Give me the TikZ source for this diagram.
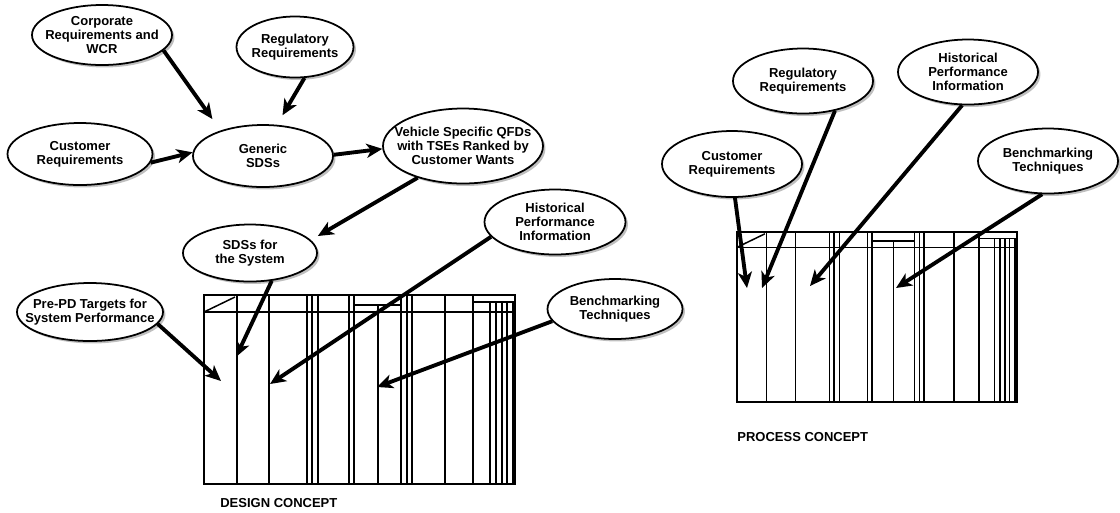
\documentclass[tikz,border=0pt]{standalone}
\usepackage{fontspec}
\setmainfont{Liberation Sans}
\usetikzlibrary{arrows.meta,shapes.geometric,shadows}
\newlength\pxu
\setlength\pxu{0.02cm}

\tikzset{
  bubble/.style 2 args={ellipse, draw, line width=1pt, fill=white,
    inner sep=0pt, minimum width=#1\pxu, minimum height=#2\pxu,
    drop shadow={shadow xshift=1.4pt, shadow yshift=-1.4pt, fill=black!50}},
  caption/.style={font=\fontsize{7.4}{8.1}\selectfont\bfseries,
    align=center, inner sep=0pt},
  flow/.style={line width=2.2pt, -{Stealth[length=9pt,width=8pt,inset=2.5pt]}},
  gridrule/.style={line width=0.85pt},
  gridframe/.style={line width=1.4pt},
  % concept matrix: 311 x 189 units, origin at its top-left corner
  conceptgrid/.pic={
    \draw[gridrule] (0,17) -- (311,17);
    \draw[gridrule] (0,17) -- (31,2);
    \foreach \gx in {33,65,103,108,114,145,150,197,203,208,241,269}
      \draw[gridrule] (\gx,0) -- (\gx,189);
    \draw[gridrule] (150,10) -- (197,10);
    \draw[gridrule] (174,10) -- (174,189);
    \draw[gridrule] (269,7) -- (311,7);
    \foreach \gx in {286,292,298,303,309}
      \draw[gridrule] (\gx,7) -- (\gx,189);
    \draw[gridframe] (0,0) rectangle (311,189);
  }
}

\begin{document}
\begin{tikzpicture}[x=0.02cm, y=-0.02cm]
\useasboundingbox (0,0) rectangle (1120,512);

% matrices
\pic at (204,295) {conceptgrid};
\pic[scale=0.9] at (737,232) {conceptgrid};

% ---- design concept bubbles
\node[bubble={140}{60}] (corp) at (102,35) {};
\node[caption] (corp-t) at (corp) {Corporate\\Requirements and\\WCR};
\node[bubble={117}{61}] (reg1) at (295,47) {};
\node[caption] (reg1-t) at (reg1) {Regulatory\\Requirements};
\node[bubble={145}{62}] (cust1) at (80,154) {};
\node[caption] (cust1-t) at (cust1) {Customer\\Requirements};
\node[bubble={140}{62}] (gen) at (263,156) {};
\node[caption] (gen-t) at (gen) {Generic\\SDSs};
\node[bubble={160}{75}] (veh) at (463,146) {};
\node[caption] (veh-t) at (veh) {Vehicle Specific QFDs\\with TSEs Ranked by\\Customer Wants};
\node[bubble={134}{57}] (sds) at (250,253) {};
\node[caption] (sds-t) at (sds) {SDSs for\\the System};
\node[bubble={146}{58}] (pre) at (90,312) {};
\node[caption] (pre-t) at (pre) {Pre-PD Targets for\\System Performance};
\node[bubble={141}{65}] (hist1) at (555,222) {};
\node[caption] (hist1-t) at (hist1) {Historical\\Performance\\Information};
\node[bubble={135}{60}] (bench1) at (615,309) {};
\node[caption] (bench1-t) at (bench1) {Benchmarking\\Techniques};

% ---- process concept bubbles
\node[bubble={140}{65}] (reg2) at (803,81) {};
\node[caption] (reg2-t) at (reg2) {Regulatory\\Requirements};
\node[bubble={140}{65}] (hist2) at (968,72) {};
\node[caption] (hist2-t) at (hist2) {Historical\\Performance\\Information};
\node[bubble={140}{66}] (cust2) at (732,164) {};
\node[caption] (cust2-t) at (cust2) {Customer\\Requirements};
\node[bubble={140}{65}] (bench2) at (1048,161) {};
\node[caption] (bench2-t) at (bench2) {Benchmarking\\Techniques};

% targets inside the matrices
\coordinate (dA) at (236,357);
\coordinate (dB) at (221,381);
\coordinate (dC) at (270,384);
\coordinate (dD) at (377,387);
\coordinate (pA) at (747,288);
\coordinate (pB) at (762,288);
\coordinate (pC) at (810,286);
\coordinate (pD) at (896,288);

% ---- connectors
\draw[flow, shorten >=14\pxu] (corp.-14) -- (gen.149);
\draw[flow, shorten >=11\pxu] (reg1.-73) -- (gen.66);
\draw[flow] (cust1.-7) -- (gen.177);
\draw[flow] (gen.1) -- (veh.182);
\draw[flow, shorten >=8\pxu] (veh.215) -- (sds.12);
\draw[flow] (sds.-52) -- (dA);
\draw[flow] (pre.-10) -- (dB);
\draw[flow] (hist1.193) -- (dC);
\draw[flow] (bench1.191) -- (dD);

\draw[flow] (cust2.-85) -- (pA);
\draw[flow] (reg2.-43) -- (pB);
\draw[flow] (hist2.-100) -- (pC);
\draw[flow] (bench2.-100) -- (pD);

% captions
\node[caption, anchor=west] (design) at (220,503) {DESIGN CONCEPT};
\node[caption, anchor=west] (process) at (737,437) {PROCESS CONCEPT};
\end{tikzpicture}
\end{document}
